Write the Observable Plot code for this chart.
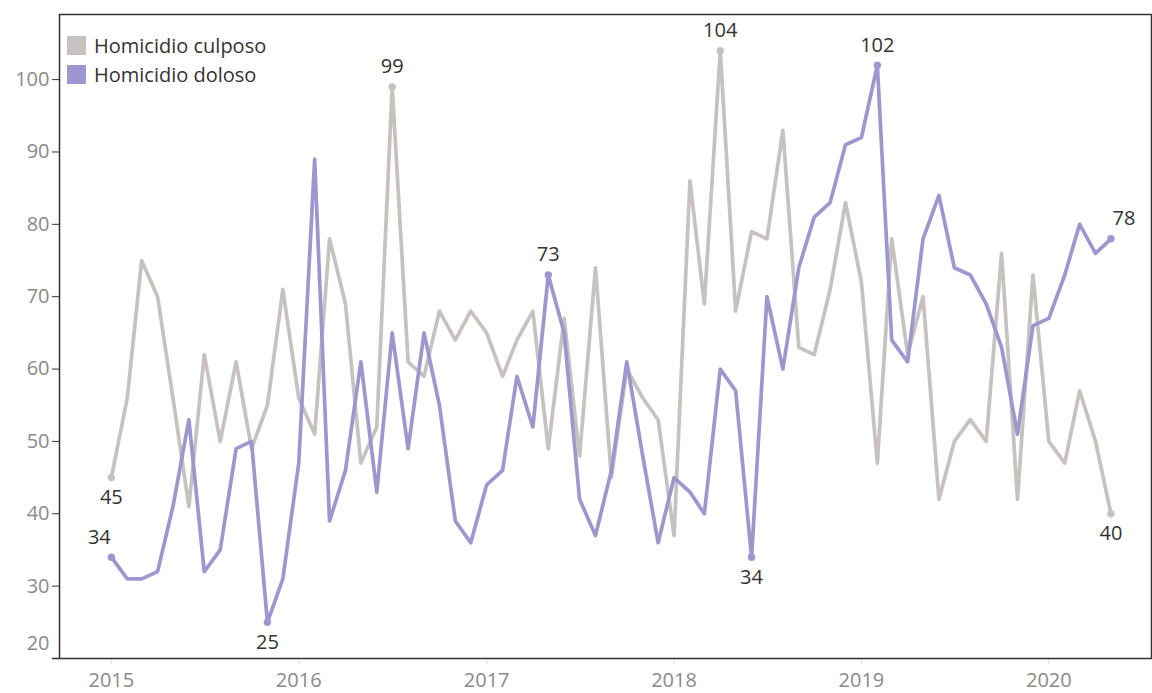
<!DOCTYPE html>
<html>
<head>
<meta charset="utf-8">
<script src="https://cdn.jsdelivr.net/npm/d3@7"></script>
<script src="https://cdn.jsdelivr.net/npm/@observablehq/plot@0.6"></script>
<style>
  html, body { margin: 0; padding: 0; background: #fff; }
  #wrap { position: relative; width: 1152px; height: 693px; font-family: "Open Sans", sans-serif; }
  #legend { position: absolute; left: 67px; top: 31px; font-size: 20px; color: #333; line-height: 29px; }
  #legend .row { display: flex; align-items: center; }
  #legend .sw { width: 19px; height: 19px; margin-right: 8px; }
</style>
</head>
<body>
<div id="wrap"><div id="legend"></div></div>
<script>
// ---- data ----
const seriesNames = ["Homicidio culposo", "Homicidio doloso"];
const seriesColors = ["#c7c2c0", "#9d97cf"];
const firstMonth = "2015-01";
const culposo = [45,56,75,70,56,41,62,50,61,49,55,71,
                 56,51,78,69,47,52,99,61,59,68,64,68,
                 65,59,64,68,49,67,48,74,45,60,56,53,
                 37,86,69,104,68,79,78,93,63,62,71,83,
                 72,47,78,62,70,42,50,53,50,76,42,73,
                 50,47,57,50,40];
const doloso  = [34,31,31,32,41,53,32,35,49,50,25,31,
                 47,89,39,46,61,43,65,49,65,55,39,36,
                 44,46,59,52,73,65,42,37,46,61,48,36,
                 45,43,40,60,57,34,70,60,74,81,83,91,
                 92,102,64,61,78,84,74,73,69,63,51,66,
                 67,73,80,76,78];
// labelled points: month index and side of the label
const culposoLabels = [[0, "below"], [18, "above"], [39, "above"], [64, "below"]];
const dolosoLabels  = [[0, "aboveLeft"], [10, "below"], [28, "above"], [41, "below"], [49, "above"], [64, "aboveRight"]];
const yTicks = [30, 40, 50, 60, 70, 80, 90, 100];
const yBottomTick = [20];
const xTickYears = [2015, 2016, 2017, 2018, 2019, 2020];

// ---- build table ----
const start = d3.utcParse("%Y-%m")(firstMonth);
const dateAt = i => d3.utcMonth.offset(start, i);
const rows = [];
culposo.forEach((v, i) => rows.push({date: dateAt(i), value: v, series: seriesNames[0]}));
doloso.forEach((v, i) => rows.push({date: dateAt(i), value: v, series: seriesNames[1]}));
const labelRows = [];
culposoLabels.forEach(([i, side]) => labelRows.push({date: dateAt(i), value: culposo[i], series: seriesNames[0], side}));
dolosoLabels.forEach(([i, side]) => labelRows.push({date: dateAt(i), value: doloso[i], series: seriesNames[1], side}));
const tickDates = xTickYears.map(y => new Date(Date.UTC(y, 0, 1)));

const color = {domain: seriesNames, range: seriesColors};
const labelStyle = side => ({
  fontSize: 20, fill: "#333", fontFamily: "Open Sans",
  dx: side === "aboveLeft" ? -12 : side === "aboveRight" ? 13 : 0,
  dy: side === "below" ? 20 : -20
});

const chart = Plot.plot({
  width: 1152, height: 693,
  marginLeft: 59, marginRight: 1, marginTop: 14, marginBottom: 35,
  style: {fontFamily: "Open Sans", background: "#fff"},
  x: {type: "utc", domain: [new Date(Date.UTC(2014, 8, 22)), new Date(Date.UTC(2020, 6, 19))]},
  y: {domain: [20, 109]},
  color,
  marks: [
    Plot.axisX(tickDates, {tickSize: 6, stroke: "#ddd", text: null}),
    Plot.axisX(tickDates, {tickSize: 0, tickPadding: 14, tickFormat: d3.utcFormat("%Y"), fontSize: 20, fill: "#8a8a8a", label: null}),
    Plot.axisY(yTicks, {tickSize: 7, tickPadding: 3, fontSize: 20, fill: "#8a8a8a", stroke: "#333", label: null}),
    Plot.axisY(yBottomTick, {tickSize: 0, tickPadding: 10, dy: -15, fontSize: 20, fill: "#8a8a8a", label: null}),
    Plot.lineY(rows.filter(d => d.series === seriesNames[0]), {x: "date", y: "value", stroke: "series", strokeWidth: 3.7, strokeLinejoin: "round"}),
    Plot.lineY(rows.filter(d => d.series === seriesNames[1]), {x: "date", y: "value", stroke: "series", strokeWidth: 3.7, strokeLinejoin: "round"}),
    Plot.dot(labelRows, {x: "date", y: "value", fill: "series", r: 3.7}),
    ...["below", "above", "aboveLeft", "aboveRight"].map(side =>
      Plot.text(labelRows.filter(d => d.side === side), {x: "date", y: "value", text: d => String(d.value), ...labelStyle(side)})),
    Plot.frame({stroke: "#333", strokeWidth: 1.5}),
    Plot.ruleY([20], {x1: new Date(Date.UTC(2014, 8, 8)), x2: new Date(Date.UTC(2014, 8, 22)), stroke: "#333", strokeWidth: 1.5})
  ]
});
document.getElementById("wrap").prepend(chart);

const legend = document.getElementById("legend");
seriesNames.forEach((name, i) => {
  const row = document.createElement("div");
  row.className = "row";
  const sw = document.createElement("div");
  sw.className = "sw";
  sw.style.background = seriesColors[i];
  const t = document.createElement("span");
  t.textContent = name;
  row.append(sw, t);
  legend.append(row);
});
</script>
</body>
</html>
